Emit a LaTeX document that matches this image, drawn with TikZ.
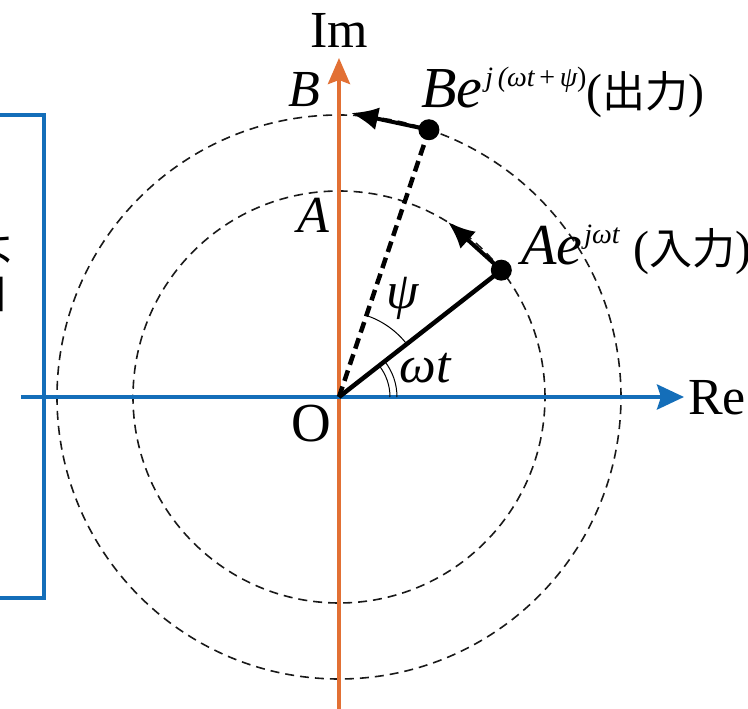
\documentclass[tikz,border=0pt]{standalone}
\usepackage{fontspec}
\setmainfont{Liberation Serif}
\newfontfamily\jpfont{Noto Sans CJK JP}
\usetikzlibrary{arrows.meta}
\definecolor{axblue}{RGB}{20,110,185}
\definecolor{axorange}{RGB}{226,112,52}
\newcommand{\supsz}{\fontsize{28}{30}\selectfont}
\newcommand{\jpsz}{\jpfont\fontsize{43}{46}\selectfont}
\newcommand{\parsz}{\upshape\fontsize{48}{52}\selectfont}
\tikzset{
  lbl/.style={font=\fontsize{52}{60}\selectfont, inner sep=0pt},
  guide/.style={black!90, line width=1.6pt, dash pattern=on 9pt off 6pt},
  vec/.style={black, line width=4.5pt},
  vecarrow/.style={black, line width=4pt, -{Latex[length=27pt,width=23pt]}},
  dot/.style={circle, fill=black, inner sep=0pt, minimum size=21pt},
  anglearc/.style={black, line width=1pt},
}
\begin{document}
\begin{tikzpicture}[x=1pt,y=1pt]
\useasboundingbox (-339,-312) rectangle (409,397);
% left box (partly out of view)
\draw[axblue, line width=3.2pt] (-380,282) rectangle (-295,-201);
\node[inner sep=0pt, anchor=east, font=\jpfont\fontsize{44}{48}\selectfont] (frag1) at (-322,150) {よ};
\node[inner sep=0pt, anchor=east, font=\jpfont\fontsize{44}{48}\selectfont] (frag2) at (-330,102) {口};
% circles
\coordinate (O) at (0,0);
\draw[guide] (O) circle[radius=206];
\draw[guide] (O) circle[radius=282];
% axes
\coordinate (reS) at (-318,0);
\coordinate (reE) at (345,0);
\coordinate (imS) at (0,-312);
\coordinate (imE) at (0,339);
\draw[axorange, line width=4pt, -{Stealth[length=26pt,width=22pt,inset=4pt]}] (imS) -- (imE);
\draw[axblue, line width=4pt, -{Stealth[length=27pt,width=25pt,inset=4pt]}] (reS) -- (reE);
% points
\node[dot] (Ap) at (38:206) {};
\node[dot] (Bp) at (71.4:282) {};
\coordinate (Ah) at (109,175);
\coordinate (Bh) at (12,284);
% angle arcs
\draw[anglearc] (51,0) arc[start angle=0, end angle=38, radius=51];
\draw[anglearc] (58,0) arc[start angle=0, end angle=38, radius=58];
\draw[anglearc] (38:86) arc[start angle=38, end angle=71.4, radius=86];
% vectors
\draw[vec] (O) -- (Ap.center);
\draw[black, line width=4.5pt, dash pattern=on 11pt off 6pt] (O) -- (Bp.center);
\draw[vecarrow] (Ap.center) -- (Ah);
\draw[vecarrow] (Bp.center) -- (Bh);
% labels
\node[lbl] (Im) at (0,367) {Im};
\node[lbl] (Re) at (378,-1) {Re};
\node[lbl, font=\fontsize{55}{60}\selectfont] (Olbl) at (-28,-27) {O};
\node[lbl] (Blbl) at (-35,307) {\itshape B};
\node[lbl] (Albl) at (-26,182) {\itshape A};
\node[lbl] (psi) at (64,99) {\itshape ψ};
\node[lbl] (wt) at (86,29) {\itshape ωt};
\node[lbl, anchor=base west, font=\fontsize{58}{62}\selectfont] (Btext) at (82,289) {\itshape Be\hspace{3pt}\raisebox{21pt}{\supsz\itshape j\,(ωt\,\upshape+\,\itshape ψ\upshape)}{\parsz(}{\jpsz 出力}{\parsz)}};
\node[lbl, anchor=base west, font=\fontsize{58}{62}\selectfont] (Atext) at (182,132) {\itshape Ae\hspace{2pt}\raisebox{21pt}{\supsz\itshape jωt}\hspace{14pt}{\parsz(}{\jpsz 入力}{\parsz)}};
\end{tikzpicture}
\end{document}
